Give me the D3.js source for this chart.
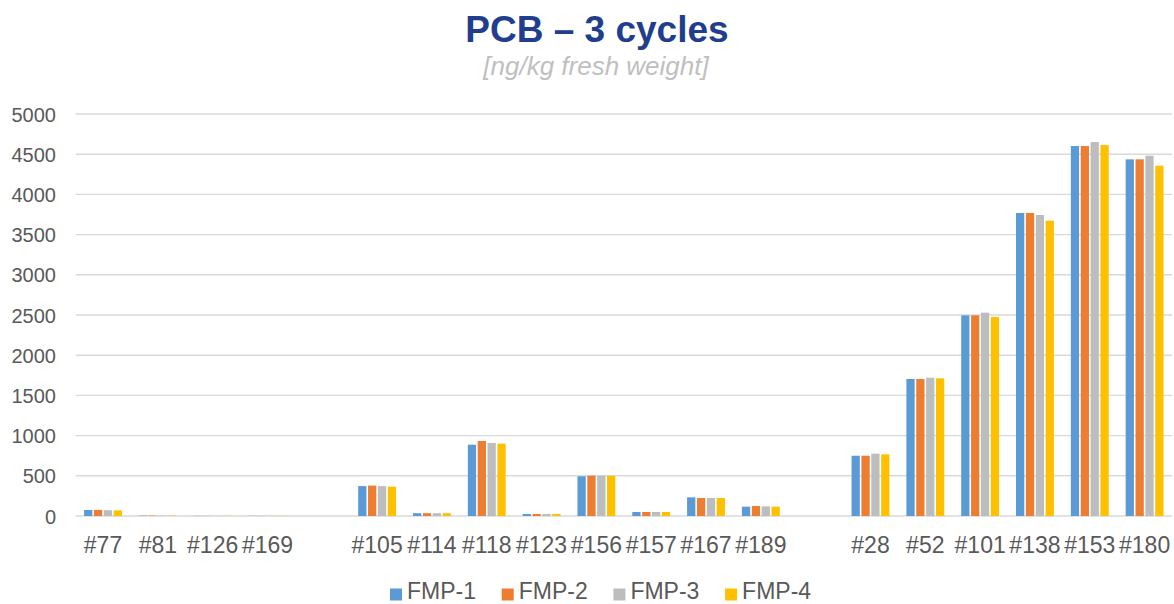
<!DOCTYPE html>
<html><head><meta charset="utf-8">
<script src="https://cdn.jsdelivr.net/npm/d3@7"></script>
<style>body{margin:0;background:#fff;} svg{display:block;}</style>
</head><body>
<svg id="c" width="1174" height="604"></svg>
<script>
const categories = ["#77","#81","#126","#169","","#105","#114","#118","#123","#156","#157","#167","#189","","#28","#52","#101","#138","#153","#180"];
const seriesNames = ["FMP-1","FMP-2","FMP-3","FMP-4"];
const fmp1 = [75, 5, 2, 2, null, 372, 35, 887, 25, 494, 50, 232, 116, null, 750, 1704, 2496, 3769, 4602, 4436];
const fmp2 = [76, 5, 2, 2, null, 378, 35, 933, 25, 501, 50, 224, 124, null, 750, 1704, 2496, 3769, 4602, 4436];
const fmp3 = [72, 5, 2, 2, null, 372, 35, 908, 25, 500, 50, 224, 120, null, 775, 1720, 2529, 3744, 4652, 4481];
const fmp4 = [70, 5, 2, 2, null, 365, 35, 900, 25, 500, 50, 224, 116, null, 767, 1712, 2475, 3673, 4614, 4357];
const yTicks = [0,500,1000,1500,2000,2500,3000,3500,4000,4500,5000];
const colors = ["#5B9BD5","#ED7D31","#BCBDBF","#FFC000"];
const series = [fmp1, fmp2, fmp3, fmp4];

(function(){
const svg = d3.select("#c");
const mLeft = 75.6, mRight = 1172, mTop = 114, mBottom = 516;
const font = "'Liberation Sans', Arial, sans-serif";

const x0 = d3.scaleBand().domain(d3.range(categories.length)).range([mLeft, mRight]).padding(0);
const groupW = x0.bandwidth() * 0.72;
const x1 = d3.scaleBand().domain(d3.range(seriesNames.length)).range([0, groupW]).padding(0);
const y = d3.scaleLinear().domain([0, 5000]).range([mBottom, mTop]);

svg.append("g").selectAll("line").data(yTicks).join("line")
  .attr("x1", mLeft).attr("x2", mRight)
  .attr("y1", d => y(d)).attr("y2", d => y(d))
  .attr("stroke", "#D9D9D9").attr("stroke-width", 1.4);

const yAxis = d3.axisLeft(y).tickValues(yTicks).tickSize(0).tickPadding(0).tickFormat(d3.format("d"));
const ya = svg.append("g").attr("transform", `translate(56,0)`).call(yAxis);
ya.select(".domain").remove();
ya.selectAll("text").attr("font-family", font).attr("font-size", 20).attr("fill", "#595959").attr("dy", "0.35em");

const g = svg.append("g");
series.forEach((vals, si) => {
  g.append("g").selectAll("rect").data(vals.map((v, i) => ({v, i})).filter(d => d.v != null)).join("rect")
    .attr("x", d => x0(d.i) + (x0.bandwidth() - groupW) / 2 + x1(si) + 0.8)
    .attr("width", x1.bandwidth() - 1.6)
    .attr("y", d => y(d.v))
    .attr("height", d => mBottom - y(d.v))
    .attr("fill", colors[si]);
});

const xAxis = d3.axisBottom(x0).tickSize(0).tickPadding(0).tickFormat(i => categories[i]);
const xa = svg.append("g").attr("transform", `translate(0,${mBottom})`).call(xAxis);
xa.select(".domain").remove();
xa.selectAll("text").attr("font-family", font).attr("font-size", 23).attr("fill", "#595959").attr("dy", null).attr("y", 37);

svg.append("text").attr("x", 597).attr("y", 42).attr("text-anchor", "middle")
  .attr("font-family", font).attr("font-weight", "bold").attr("font-size", 37).attr("fill", "#203D8E")
  .text("PCB – 3 cycles");
svg.append("text").attr("x", 596).attr("y", 75).attr("text-anchor", "middle")
  .attr("font-family", font).attr("font-style", "italic").attr("font-size", 26).attr("fill", "#BFBFBF")
  .text("[ng/kg fresh weight]");

const lg = svg.append("g");
seriesNames.forEach((n, i) => {
  const lx = 390 + i * 111.7;
  lg.append("rect").attr("x", lx).attr("y", 588.5).attr("width", 12).attr("height", 12).attr("fill", colors[i]);
  lg.append("text").attr("x", lx + 17).attr("y", 598.5).attr("font-family", font).attr("font-size", 23).attr("fill", "#595959").text(n);
});
})();
</script>
</body></html>
